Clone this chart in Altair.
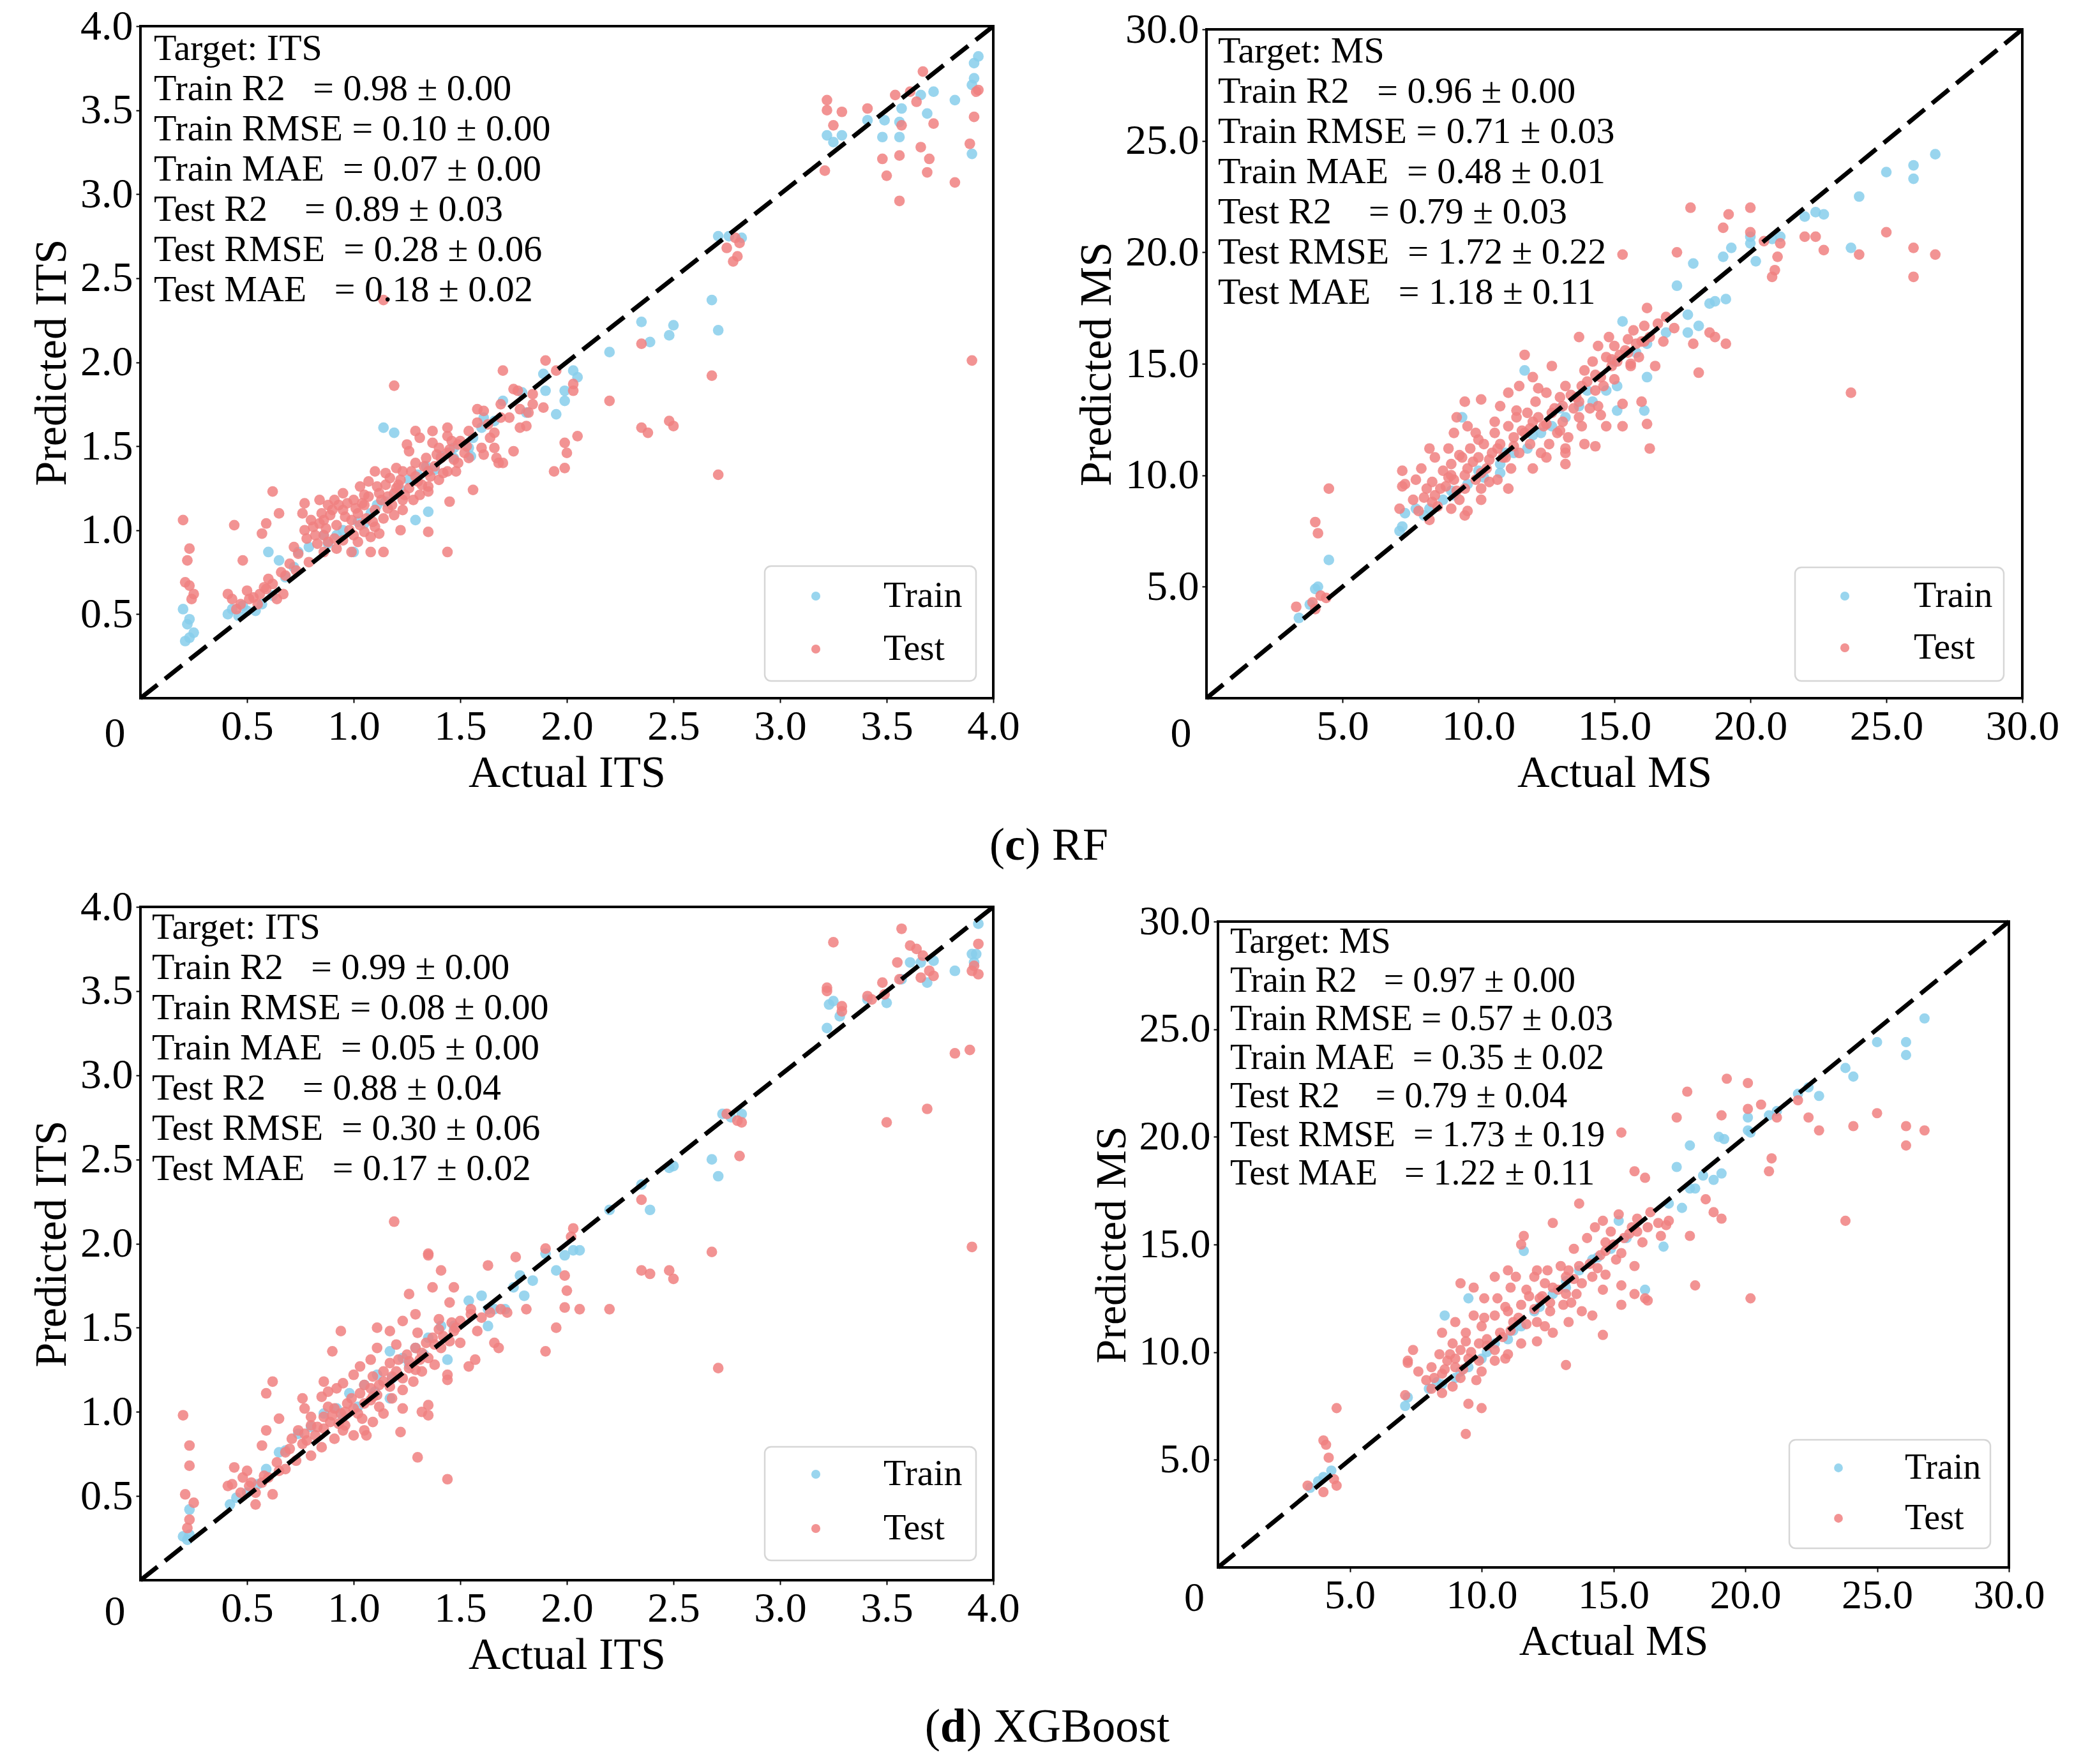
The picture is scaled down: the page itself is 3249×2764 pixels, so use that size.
import altair as alt
import pandas as pd

FONT = "Liberation Serif"
TRAIN_COLOR = "#87CEEB"
TEST_COLOR = "#F08080"
NBSP = "\u00a0"

# ---------------------------------------------------------------------------
# Observed vs. predicted values, (actual, predicted) pairs
# ---------------------------------------------------------------------------
RF_ITS_TRAIN = [
    (3.22, 3.35), (3.25, 3.31), (3.29, 3.35), (3.41, 3.44), (3.48, 3.34), (3.49, 3.44),
    (3.56, 3.34), (3.56, 3.43), (3.57, 3.51), (3.66, 3.59), (3.69, 3.48), (3.72, 3.61),
    (3.82, 3.56), (3.90, 3.65), (3.91, 3.78), (3.93, 3.82), (3.90, 3.24), (3.91, 3.69),
    (2.68, 2.37), (2.71, 2.19), (2.35, 2.24), (2.39, 2.12), (2.48, 2.16), (2.50, 2.22),
    (2.20, 2.06), (2.71, 2.75), (2.76, 2.75), (2.82, 2.74), (2.03, 1.95), (2.05, 1.91),
    (1.99, 1.77), (1.95, 1.69), (1.99, 1.83), (1.89, 1.93), (1.90, 1.83),
    (0.20, 0.53), (0.22, 0.44), (0.23, 0.36), (0.21, 0.34), (0.25, 0.39), (0.23, 0.47),
    (0.41, 0.50), (0.43, 0.53), (0.48, 0.55), (0.54, 0.52), (0.57, 0.56), (0.62, 0.61),
    (0.65, 0.82), (0.60, 0.87), (0.68, 0.72), (0.74, 0.87), (0.79, 0.90), (0.86, 0.97),
    (0.92, 0.97), (1.00, 0.87), (1.05, 1.04), (1.11, 1.15), (1.19, 1.21), (1.26, 1.30),
    (1.35, 1.11), (1.34, 1.38), (1.41, 1.44), (1.47, 1.49), (1.56, 1.55), (1.60, 1.61),
    (1.66, 1.65), (1.70, 1.77), (1.79, 1.82), (1.14, 1.61), (1.19, 1.58), (1.29, 1.06),
    (1.47, 1.43), (1.54, 1.49), (1.61, 1.67), (1.55, 1.44), (1.81, 1.70),
    (0.95, 1.00), (1.02, 1.05), (1.08, 1.10), (1.15, 1.17), (1.22, 1.24), (1.30, 1.33),
    (1.38, 1.36), (1.45, 1.46), (0.88, 0.92), (0.72, 0.78), (0.50, 0.52), (0.46, 0.49),
]
RF_ITS_TEST = [
    (3.22, 3.56), (3.22, 3.50), (3.25, 3.41), (3.29, 3.49), (3.21, 3.14), (3.41, 3.51),
    (3.48, 3.21), (3.50, 3.11), (3.54, 3.59), (3.56, 2.96), (3.57, 3.41), (3.56, 3.23),
    (3.66, 3.28), (3.67, 3.73), (3.70, 3.21), (3.69, 3.13), (3.72, 3.42), (3.82, 3.07),
    (3.89, 3.30), (3.91, 3.46), (3.92, 3.61), (3.93, 3.62), (3.90, 2.01), (3.64, 3.55),
    (3.61, 3.61),
    (2.68, 1.92), (2.71, 1.33), (2.35, 2.11), (2.35, 1.61), (2.38, 1.58), (2.48, 1.65),
    (2.50, 1.62), (2.20, 1.77), (2.75, 2.68), (2.80, 2.63), (2.81, 2.71), (2.79, 2.74),
    (2.78, 2.60), (1.94, 1.35), (1.99, 1.37), (1.99, 1.52), (2.00, 1.46), (2.05, 1.56),
    (2.03, 1.83), (2.03, 1.87), (1.95, 1.95), (1.90, 2.01),
    (1.14, 2.37), (1.19, 1.86), (1.44, 0.87), (1.70, 1.95),
    (0.20, 1.06), (0.23, 0.89), (0.22, 0.82), (0.21, 0.69), (0.23, 0.67), (0.25, 0.62),
    (0.24, 0.59), (0.44, 1.03), (0.48, 0.82), (0.57, 0.98), (0.59, 1.04), (0.62, 1.23),
    (0.65, 1.10), (0.76, 1.10), (0.77, 1.16), (0.84, 1.18), (1.05, 1.15), (1.10, 1.35),
    (1.22, 1.00), (1.35, 0.99), (1.56, 1.24), (1.45, 1.17), (1.46, 1.53), (1.44, 1.61),
    (1.61, 1.71), (1.69, 1.75), (1.78, 1.61), (1.67, 1.43), (1.68, 1.40), (1.75, 1.47),
    (1.82, 1.70), (1.89, 1.73), (1.84, 1.81), (1.26, 1.47), (1.29, 1.59), (1.37, 1.52),
    (1.40, 1.49), (1.48, 1.35), (1.54, 1.43), (1.60, 1.49), (1.64, 1.55), (1.35, 1.23),
    (1.16, 1.20), (1.14, 0.87), (1.08, 0.87), (0.99, 0.87), (0.92, 0.89), (0.86, 0.87),
    (0.83, 0.92), (0.79, 0.81), (0.73, 0.76), (0.68, 0.73), (0.62, 0.68), (0.56, 0.62),
    (0.51, 0.59), (0.47, 0.56), (0.43, 0.59), (0.41, 0.62), (0.50, 0.64), (0.59, 0.65),
    (0.64, 0.59), (0.67, 0.62), (0.55, 0.56), (0.45, 0.53),
    (0.86, 1.06), (0.89, 1.09), (0.92, 1.03), (0.95, 1.12), (0.99, 1.06), (1.02, 1.10),
    (1.03, 1.03), (1.06, 1.07), (1.10, 1.12), (1.13, 1.18), (1.16, 1.13), (1.19, 1.22),
    (1.21, 1.27), (1.23, 1.18), (1.26, 1.25), (1.29, 1.32), (1.32, 1.27), (1.35, 1.35),
    (1.38, 1.38), (1.41, 1.43), (1.34, 1.43), (1.23, 1.35), (1.17, 1.31), (1.11, 1.26),
    (1.05, 1.21), (1.00, 1.18), (0.95, 1.22), (0.91, 1.18), (0.88, 1.15), (0.85, 1.10),
    (0.80, 1.06), (0.77, 1.00), (0.82, 0.97), (0.86, 0.97), (0.91, 0.95), (0.95, 0.94),
    (1.00, 0.97), (1.05, 0.99), (1.10, 1.02), (1.14, 1.07), (1.19, 1.09), (1.23, 1.12),
    (1.28, 1.18), (1.31, 1.21), (1.35, 1.26), (1.40, 1.30), (1.44, 1.35), (1.49, 1.40),
    (1.52, 1.46), (1.49, 1.51), (1.44, 1.46), (1.29, 1.40), (1.20, 1.37), (1.15, 1.34),
    (1.07, 1.29), (1.03, 1.26), (1.25, 1.51), (1.31, 1.55), (1.37, 1.59), (1.44, 1.56),
    (1.54, 1.59), (1.58, 1.64), (1.63, 1.63), (1.66, 1.58), (1.69, 1.67), (1.73, 1.67),
    (1.78, 1.72), (1.84, 1.75), (1.75, 1.84), (1.77, 1.83), (1.58, 1.72), (1.66, 1.49),
    (1.61, 1.45), (1.70, 1.40), (1.81, 1.62),
    (0.78, 0.95), (0.81, 1.02), (0.84, 1.04), (0.87, 1.01), (0.90, 1.12), (0.93, 1.15),
    (0.96, 1.08), (0.98, 1.00), (1.01, 1.13), (1.04, 1.16), (1.07, 1.20), (1.09, 1.05),
    (1.12, 1.22), (1.15, 1.27), (1.18, 1.15), (1.20, 1.25), (1.22, 1.30), (1.24, 1.21),
    (1.27, 1.35), (1.30, 1.29), (1.33, 1.38), (1.36, 1.32), (1.39, 1.45), (1.42, 1.34),
    (1.45, 1.48), (1.47, 1.42), (1.50, 1.53), (1.53, 1.50), (0.97, 1.16), (1.02, 0.93),
    (1.08, 0.96), (1.12, 0.98), (0.88, 0.93), (0.74, 0.86), (0.70, 0.80), (0.66, 0.75),
    (0.58, 0.66), (0.53, 0.60), (0.60, 0.71), (0.72, 0.90),
]

RF_MS_TRAIN = [
    (26.8, 24.4), (26.0, 23.9), (26.0, 23.3), (25.0, 23.6), (24.0, 22.5), (23.7, 20.2),
    (22.7, 21.7), (22.4, 21.8), (22.0, 21.6), (21.1, 20.7), (20.8, 20.6), (20.2, 19.6),
    (20.0, 20.7), (20.0, 20.4), (19.3, 20.2), (19.0, 19.8), (19.1, 17.9), (18.7, 17.8),
    (18.5, 17.7), (17.9, 19.5), (17.3, 18.5), (17.7, 17.2), (18.1, 16.7), (17.7, 16.4),
    (16.9, 16.4), (16.2, 15.9), (16.2, 14.4), (16.1, 12.9), (15.3, 16.9), (15.1, 14.0),
    (15.1, 12.9), (11.7, 14.7), (14.7, 13.8), (14.2, 13.3), (13.7, 13.1), (13.2, 12.6),
    (12.7, 12.2), (12.3, 11.9), (11.8, 11.2), (11.3, 11.0), (10.8, 10.5), (10.2, 9.9),
    (9.6, 9.6), (9.1, 9.1), (8.7, 8.9), (8.2, 8.5), (7.7, 8.5), (7.3, 8.3), (7.2, 7.7),
    (7.1, 7.5), (4.5, 6.2), (4.1, 5.0), (4.0, 4.9), (3.4, 3.6), (3.8, 4.2), (9.4, 12.6),
    (10.8, 10.1), (8.0, 8.2), (9.0, 9.3), (10.0, 10.2), (11.0, 11.0), (12.0, 11.8),
    (13.0, 13.0), (14.0, 13.8), (15.0, 15.1), (15.8, 15.5),
]
RF_MS_TEST = [
    (26.0, 20.2), (26.0, 18.9), (26.8, 19.9), (25.0, 20.9), (24.0, 19.9), (23.7, 13.7),
    (22.7, 20.1), (22.4, 20.7), (22.0, 20.7), (21.1, 20.4), (21.0, 19.8), (20.9, 19.2),
    (20.8, 18.9), (20.5, 20.5), (20.0, 22.0), (20.0, 20.9), (19.2, 21.7), (19.0, 21.1),
    (17.8, 22.0), (17.3, 20.0), (15.3, 19.9), (19.1, 15.9), (18.7, 16.2), (18.5, 16.4),
    (18.1, 14.6), (17.9, 15.9), (16.2, 17.5), (16.3, 11.2), (16.2, 12.3), (16.0, 13.3),
    (15.3, 12.2), (15.3, 13.2), (14.5, 12.7), (14.3, 11.3), (13.7, 16.2), (13.2, 11.2),
    (13.2, 10.5), (11.7, 15.4), (9.5, 13.3), (10.1, 13.4), (10.8, 13.1), (9.2, 12.6),
    (7.2, 10.2), (7.2, 9.5), (7.1, 8.5), (7.3, 9.6), (9.5, 8.2), (9.6, 8.4), (4.5, 9.4),
    (4.0, 7.9), (4.1, 7.4), (4.2, 4.6), (3.9, 4.3), (3.3, 4.1), (4.0, 4.0), (4.4, 4.5),
    (7.7, 9.8), (7.9, 10.3), (8.1, 9.4), (8.3, 9.7), (8.4, 9.1), (8.7, 10.2), (8.8, 9.5),
    (9.0, 10.5), (9.1, 9.8), (9.3, 8.9), (9.4, 10.8), (9.5, 9.4), (9.6, 10.3), (9.7, 11.2),
    (9.9, 9.8), (10.0, 10.8), (10.1, 9.4), (10.2, 11.4), (10.3, 10.3), (10.5, 11.0),
    (10.6, 11.9), (10.7, 9.8), (10.8, 11.4), (10.9, 10.8), (11.1, 12.2), (11.2, 10.3),
    (11.3, 11.7), (11.4, 12.6), (11.5, 11.0), (11.7, 11.9), (11.8, 12.8), (11.9, 11.4),
    (12.0, 12.4), (12.1, 13.3), (12.3, 11.0), (12.4, 12.2), (12.5, 13.7), (12.6, 11.4),
    (12.7, 12.8), (12.9, 11.9), (13.0, 13.5), (13.1, 12.4), (13.2, 14.0), (13.3, 11.7),
    (13.5, 13.0), (13.6, 13.5), (13.7, 12.6), (13.8, 14.0), (13.9, 14.7), (14.1, 13.0),
    (14.2, 15.1), (14.3, 13.8), (14.4, 15.8), (14.5, 14.4), (14.7, 15.3), (14.8, 16.2),
    (14.9, 14.9), (15.0, 15.8), (15.1, 15.1), (15.4, 15.6), (15.5, 16.1), (15.6, 14.9),
    (15.7, 16.5), (15.9, 15.3), (16.0, 16.0), (16.1, 16.7), (16.3, 16.2), (16.5, 14.9),
    (16.6, 16.8), (16.8, 16.0), (16.9, 17.1), (17.2, 16.6), (8.4, 10.8), (8.2, 11.2),
    (8.9, 11.2), (9.1, 11.9), (9.6, 12.2), (9.9, 11.9), (11.1, 13.7), (11.5, 14.0),
    (12.0, 14.4), (12.7, 14.9), (7.6, 8.9), (7.8, 8.4), (8.2, 8.0), (8.5, 8.6), (9.0, 8.5),
    (10.1, 8.9), (11.1, 9.4), (12.0, 10.3), (12.5, 10.8), (13.2, 11.0), (13.9, 11.4),
    (14.7, 12.2),
    (8.0, 9.0), (8.3, 8.8), (8.6, 9.4), (8.9, 9.9), (9.2, 9.3), (9.5, 10.0), (9.8, 10.6),
    (10.1, 10.1), (10.4, 10.7), (10.7, 11.2), (11.0, 10.8), (11.3, 11.3), (11.6, 12.0),
    (11.9, 12.1), (12.2, 12.6), (12.5, 12.3), (12.8, 13.0), (13.1, 13.1), (13.4, 13.6),
    (13.7, 13.3), (14.0, 14.2), (14.3, 14.5), (14.6, 14.0), (14.9, 15.2), (15.2, 15.4),
    (15.5, 15.5), (15.8, 15.9), (16.1, 16.0), (9.0, 10.0), (9.3, 10.9), (10.0, 11.6),
    (10.6, 12.4), (11.4, 12.9), (12.2, 13.9), (13.0, 12.0), (13.8, 12.2), (14.4, 13.1),
    (15.0, 14.3), (15.6, 15.0), (10.4, 9.7),
]

XGB_ITS_TRAIN = [
    (3.22, 3.28), (3.23, 3.42), (3.25, 3.44), (3.28, 3.35), (3.41, 3.45), (3.50, 3.43),
    (3.57, 3.57), (3.61, 3.67), (3.66, 3.67), (3.69, 3.55), (3.72, 3.68), (3.82, 3.62),
    (3.90, 3.72), (3.92, 3.72), (3.93, 3.90), (3.91, 3.67),
    (2.68, 2.50), (2.71, 2.40), (2.35, 2.35), (2.39, 2.20), (2.48, 2.45), (2.50, 2.46),
    (2.20, 2.20), (2.73, 2.77), (2.77, 2.75), (2.82, 2.77), (2.03, 1.96), (2.06, 1.96),
    (1.99, 1.93), (1.90, 1.94), (1.95, 1.84), (1.84, 1.78), (1.78, 1.81), (1.80, 1.69),
    (1.75, 1.74), (1.71, 1.61), (1.63, 1.61), (1.63, 1.51),
    (0.20, 0.26), (0.23, 0.27), (0.22, 0.24), (0.23, 0.42), (0.42, 0.45), (0.45, 0.49),
    (0.59, 0.66), (0.65, 0.76), (0.68, 0.77), (0.74, 0.87), (0.80, 0.91), (0.86, 0.99),
    (0.92, 1.02), (0.98, 1.11), (1.05, 1.16), (1.11, 1.22), (1.17, 1.36), (1.23, 1.32),
    (1.29, 1.38), (1.35, 1.44), (1.41, 1.51), (1.47, 1.51), (1.54, 1.66), (1.60, 1.69),
    (1.66, 1.61), (1.17, 1.08), (1.44, 1.31),
    (0.95, 0.97), (1.02, 1.03), (1.10, 1.12), (1.18, 1.20), (1.26, 1.28), (1.33, 1.34),
    (0.55, 0.57), (0.50, 0.52),
]
XGB_ITS_TEST = [
    (3.25, 3.79), (3.57, 3.87), (3.22, 3.52), (3.22, 3.50), (3.29, 3.41), (3.29, 3.38),
    (3.41, 3.47), (3.43, 3.45), (3.49, 3.48), (3.48, 3.55), (3.55, 3.67), (3.56, 3.57),
    (3.61, 3.77), (3.64, 3.75), (3.66, 3.58), (3.70, 3.62), (3.72, 3.59), (3.67, 3.71),
    (3.82, 3.13), (3.89, 3.15), (3.69, 2.80), (3.50, 2.72), (3.90, 1.98), (3.91, 3.65),
    (3.93, 3.78), (3.93, 3.60), (3.90, 3.62),
    (2.68, 1.95), (2.71, 1.26), (2.35, 2.26), (2.35, 1.84), (2.39, 1.82), (2.48, 1.84),
    (2.50, 1.79), (2.20, 1.61), (2.75, 2.77), (2.80, 2.73), (2.82, 2.72), (2.81, 2.52),
    (2.03, 2.09), (2.02, 2.04), (1.99, 1.81), (2.00, 1.72), (1.99, 1.62), (2.06, 1.61),
    (1.95, 1.50), (1.90, 1.36), (1.90, 1.97), (1.76, 1.92), (1.81, 1.61), (1.72, 1.59),
    (1.63, 1.87), (1.45, 1.65), (1.41, 1.84), (1.35, 1.94), (1.35, 1.93), (1.19, 2.13),
    (0.94, 1.48), (1.26, 1.70), (1.37, 1.74), (1.47, 1.74), (1.55, 1.61), (1.68, 1.38),
    (1.66, 1.41), (1.57, 1.31), (1.44, 0.60), (1.30, 0.73), (1.22, 0.88), (1.35, 0.98),
    (1.35, 1.04), (1.44, 1.19), (1.44, 1.22), (1.54, 1.27),
    (0.20, 0.98), (0.23, 0.80), (0.23, 0.68), (0.21, 0.51), (0.25, 0.46), (0.23, 0.36),
    (0.22, 0.31), (0.44, 0.67), (0.57, 0.80), (0.59, 0.89), (0.62, 1.18), (0.59, 1.11),
    (0.65, 0.96), (0.76, 1.08), (0.77, 1.02), (0.90, 1.36), (0.86, 1.18), (0.85, 1.09),
    (0.41, 0.56), (0.43, 0.57), (0.48, 0.61), (0.51, 0.56), (0.54, 0.52), (0.54, 0.45),
    (0.57, 0.58), (0.60, 0.61), (0.62, 0.51), (0.65, 0.65), (0.68, 0.66), (0.50, 0.65),
    (0.71, 0.84), (0.74, 0.89), (0.77, 0.87), (0.80, 0.92), (0.83, 0.91), (0.86, 0.97),
    (0.89, 0.94), (0.91, 1.02), (0.94, 0.99), (0.97, 1.05), (1.00, 1.02), (1.03, 1.11),
    (1.05, 1.16), (1.08, 1.07), (1.09, 1.21), (1.12, 1.16), (1.14, 1.24), (1.17, 1.29),
    (1.18, 1.21), (1.21, 1.31), (1.25, 1.34), (1.26, 1.26), (1.29, 1.38), (1.31, 1.31),
    (1.34, 1.41), (1.37, 1.44), (1.40, 1.49), (1.41, 1.38), (1.46, 1.53), (1.47, 1.48),
    (1.50, 1.54), (1.55, 1.58), (1.60, 1.56), (1.64, 1.59), (1.69, 1.61), (1.03, 1.27),
    (1.00, 1.22), (0.95, 1.17), (0.92, 1.14), (0.88, 1.12), (1.00, 0.86), (1.05, 0.89),
    (1.09, 0.94), (1.14, 0.99), (1.18, 1.08), (1.23, 1.13), (1.28, 1.18), (1.32, 1.24),
    (1.38, 1.28), (1.17, 1.48), (1.11, 1.38), (1.08, 1.31), (1.23, 1.54), (1.29, 1.58),
    (1.11, 1.50), (1.06, 0.86), (0.95, 0.89), (0.91, 0.84), (0.85, 0.79), (0.80, 0.74),
    (0.76, 0.81), (0.73, 0.71), (0.68, 0.76), (1.32, 1.00), (1.23, 1.02), (1.09, 1.09),
    (1.50, 1.41), (1.58, 1.48),
    (0.78, 0.83), (0.82, 0.86), (0.86, 0.90), (0.90, 0.98), (0.93, 0.93), (0.96, 1.00),
    (0.99, 1.08), (1.02, 0.99), (1.05, 1.05), (1.08, 1.14), (1.11, 1.10), (1.14, 1.18),
    (1.17, 1.15), (1.20, 1.24), (1.23, 1.20), (1.26, 1.30), (1.29, 1.25), (1.32, 1.35),
    (1.35, 1.32), (1.38, 1.40), (1.42, 1.45), (1.45, 1.42), (1.48, 1.50), (0.96, 0.92),
    (1.04, 0.96), (1.12, 1.03), (0.88, 1.03), (0.80, 0.97), (0.70, 0.78), (0.64, 0.70),
    (0.58, 0.62), (0.52, 0.58), (0.47, 0.52), (1.20, 1.40), (1.30, 1.47), (1.40, 1.55),
]

XGB_MS_TRAIN = [
    (26.8, 25.5), (26.1, 24.4), (26.1, 23.8), (25.0, 24.4), (24.1, 22.8), (23.8, 23.2),
    (22.8, 21.9), (22.4, 22.3), (22.0, 22.0), (21.2, 21.2), (20.9, 21.0), (20.1, 20.9),
    (20.1, 20.3), (20.2, 20.2), (19.2, 19.9), (19.0, 20.0), (19.1, 18.3), (18.8, 18.0),
    (18.4, 18.2), (17.9, 19.6), (17.4, 18.6), (17.9, 17.6), (18.1, 17.6), (17.6, 16.7),
    (17.1, 16.9), (16.9, 14.9), (16.2, 12.9), (15.2, 16.1), (14.9, 14.8), (14.2, 14.3),
    (13.7, 13.8), (13.2, 13.3), (12.7, 12.7), (12.0, 11.9), (11.5, 11.2), (11.0, 10.6),
    (10.5, 10.4), (10.0, 9.7), (9.5, 9.3), (9.0, 8.8), (8.5, 8.5), (8.0, 8.3), (7.2, 7.9),
    (7.1, 7.5), (9.5, 12.5), (11.6, 14.7), (8.6, 11.7), (4.0, 4.2), (4.3, 4.5), (3.5, 3.7),
    (3.8, 4.0), (8.3, 8.6), (9.2, 9.1), (10.2, 10.0), (11.2, 11.0), (12.2, 12.1),
    (13.2, 13.0), (14.4, 14.4), (15.5, 15.3),
]
XGB_MS_TEST = [
    (26.8, 20.3), (26.1, 20.5), (26.1, 19.6), (25.0, 21.1), (24.1, 20.5), (23.8, 16.1),
    (22.8, 20.3), (22.4, 20.9), (22.0, 21.7), (21.2, 20.9), (21.0, 19.0), (20.9, 18.4),
    (20.6, 21.5), (20.1, 22.5), (20.1, 21.3), (20.2, 12.5), (19.3, 22.7), (19.1, 21.0),
    (17.8, 22.1), (17.4, 20.9), (15.3, 20.2), (15.8, 18.4), (16.2, 18.1), (19.1, 16.2),
    (18.8, 16.5), (18.5, 17.1), (18.1, 13.1), (17.9, 15.4), (17.0, 15.9), (16.8, 15.4),
    (16.3, 12.4), (16.2, 12.5), (15.8, 12.7), (15.3, 13.1), (15.3, 12.2), (14.6, 10.8),
    (14.7, 13.6), (13.2, 9.4), (12.7, 16.0), (13.7, 16.9), (11.6, 15.4), (11.5, 15.0),
    (9.2, 13.2), (9.4, 6.2), (10.0, 7.4), (9.5, 7.6), (7.2, 9.5), (7.2, 9.6), (7.1, 8.0),
    (7.4, 10.1), (4.5, 7.4), (4.0, 5.9), (4.1, 5.7), (4.2, 5.1), (3.4, 3.8), (4.0, 3.5),
    (4.5, 3.8), (4.4, 4.1),
    (7.6, 9.1), (7.9, 8.7), (8.1, 9.3), (8.4, 9.9), (8.5, 9.0), (8.7, 9.6), (8.9, 10.4),
    (9.0, 9.3), (9.2, 10.1), (9.4, 10.9), (9.5, 9.7), (9.7, 11.7), (9.9, 10.4), (10.0, 11.2),
    (10.1, 12.5), (10.2, 10.6), (10.5, 11.7), (10.6, 12.5), (10.7, 10.9), (11.0, 11.9),
    (11.1, 13.0), (11.2, 11.4), (11.3, 13.5), (11.5, 12.2), (11.7, 12.9), (12.0, 13.5),
    (12.1, 11.4), (12.2, 12.5), (12.5, 13.8), (12.6, 11.9), (12.7, 13.0), (13.0, 14.0),
    (13.1, 12.2), (13.2, 13.5), (13.5, 14.8), (13.6, 12.7), (13.7, 14.0), (13.8, 11.9),
    (14.0, 15.3), (14.2, 13.5), (14.3, 15.8), (14.5, 14.5), (14.6, 16.1), (14.7, 15.1),
    (14.9, 15.6), (15.1, 14.3), (15.2, 16.4), (15.4, 15.3), (15.7, 15.8), (15.8, 14.0),
    (15.9, 16.2), (16.1, 15.1), (16.3, 15.8), (16.4, 16.5), (16.7, 16.0), (17.1, 16.1),
    (8.1, 8.3), (8.5, 8.1), (8.9, 8.4), (9.2, 8.8), (10.0, 9.1), (10.5, 9.6), (11.0, 9.9),
    (11.5, 10.4), (12.1, 10.5), (12.7, 10.9), (13.3, 11.4), (14.2, 11.7), (8.5, 10.9),
    (9.0, 11.4), (9.7, 13.0), (10.5, 13.5), (11.0, 13.8), (12.1, 13.8),
    (8.2, 8.8), (8.6, 9.2), (9.0, 9.7), (9.3, 9.2), (9.6, 10.0), (9.9, 9.6), (10.2, 10.3),
    (10.5, 10.1), (10.8, 10.7), (11.1, 11.0), (11.4, 11.6), (11.7, 11.3), (12.0, 12.0),
    (12.3, 12.6), (12.6, 12.3), (12.9, 12.9), (13.2, 12.7), (13.5, 13.4), (13.8, 13.2),
    (14.1, 14.1), (14.4, 13.9), (14.7, 14.7), (15.0, 15.0), (15.3, 14.6), (15.6, 15.5),
    (15.9, 15.6), (8.8, 9.9), (9.4, 10.5), (10.1, 11.6), (10.9, 12.1), (11.8, 12.6),
    (12.4, 13.2), (13.3, 13.8), (9.8, 8.7), (10.9, 9.7), (12.4, 11.2), (13.4, 12.3),
    (14.6, 12.9),
]

# Cross-validated metrics: (name, mean, std)
RF_ITS_METRICS = [("Train R2", 0.98, 0.00), ("Train RMSE", 0.10, 0.00), ("Train MAE", 0.07, 0.00),
                  ("Test R2", 0.89, 0.03), ("Test RMSE", 0.28, 0.06), ("Test MAE", 0.18, 0.02)]
RF_MS_METRICS = [("Train R2", 0.96, 0.00), ("Train RMSE", 0.71, 0.03), ("Train MAE", 0.48, 0.01),
                 ("Test R2", 0.79, 0.03), ("Test RMSE", 1.72, 0.22), ("Test MAE", 1.18, 0.11)]
XGB_ITS_METRICS = [("Train R2", 0.99, 0.00), ("Train RMSE", 0.08, 0.00), ("Train MAE", 0.05, 0.00),
                   ("Test R2", 0.88, 0.04), ("Test RMSE", 0.30, 0.06), ("Test MAE", 0.17, 0.02)]
XGB_MS_METRICS = [("Train R2", 0.97, 0.00), ("Train RMSE", 0.57, 0.03), ("Train MAE", 0.35, 0.02),
                  ("Test R2", 0.79, 0.04), ("Test RMSE", 1.73, 0.19), ("Test MAE", 1.22, 0.11)]

ITS_TICKS = [0.5, 1.0, 1.5, 2.0, 2.5, 3.0, 3.5, 4.0]
MS_TICKS = [5.0, 10.0, 15.0, 20.0, 25.0, 30.0]
ITS_LIMIT = 4.0
MS_LIMIT = 30.0
SERIES = ["Train", "Test"]
COLORS = [TRAIN_COLOR, TEST_COLOR]


def metric_lines(target, metrics):
    lines = [f"Target: {target}"]
    for name, mean, std in metrics:
        lines.append(f"{name:<10} = {mean:.2f} ± {std:.2f}".replace(" ", NBSP))
    return "\n".join(lines)


def one_row(**kw):
    return pd.DataFrame({k: [v] for k, v in kw.items()})


def build_panel(p):
    lim = p["lim"]
    pw, ph = p["plot_w"], p["plot_h"]
    ox, oy = p["origin"]
    x_scale = alt.Scale(domain=[-ox * lim / pw, lim], nice=False, zero=False)
    y_scale = alt.Scale(domain=[0, lim + oy * lim / ph], nice=False, zero=False)

    axis_common = dict(
        values=p["ticks"], format=".1f", grid=False, domain=False,
        labelFont=FONT, labelFontSize=p["fs_label"], labelColor="black",
        labelFlush=False, labelOverlap=False, labelPadding=5,
        tickColor="black", tickSize=7, tickWidth=2,
        titleFont=FONT, titleFontSize=p["fs_title"], titleFontWeight="normal",
        titleColor="black",
    )
    x_axis = alt.Axis(title=f"Actual {p['target']}", titlePadding=6,
                      titleX=ox + pw / 2, **axis_common)
    y_axis = alt.Axis(title=f"Predicted {p['target']}", titlePadding=8,
                      titleY=oy + ph / 2, offset=-ox, **axis_common)

    def xy(xfield, yfield):
        return dict(x=alt.X(xfield, scale=x_scale, axis=x_axis),
                    y=alt.Y(yfield, scale=y_scale, axis=y_axis))

    rows = [{"actual": a, "predicted": b, "set": "Train"} for a, b in p["train"]]
    rows += [{"actual": a, "predicted": b, "set": "Test"} for a, b in p["test"]]
    points = alt.Chart(pd.DataFrame(rows)).mark_circle(size=p["pt"], opacity=0.85).encode(
        color=alt.Color("set:N", scale=alt.Scale(domain=SERIES, range=COLORS), legend=None),
        **xy("actual:Q", "predicted:Q"),
    )

    diag = alt.Chart(pd.DataFrame({"actual": [0.0, lim], "predicted": [0.0, lim]})).mark_line(
        color="black", strokeWidth=p["lw"], strokeDash=[34, 15]
    ).encode(**xy("actual:Q", "predicted:Q"))

    frame = alt.Chart(one_row(actual=0.0, actual_end=lim, predicted=0.0, predicted_end=lim)).mark_rect(
        fillOpacity=0, stroke="black", strokeWidth=4
    ).encode(x2="actual_end:Q", y2="predicted_end:Q", **xy("actual:Q", "predicted:Q"))

    bx, by = p["box_xy"]
    box = alt.Chart(one_row(t=metric_lines(p["target"], p["metrics"]))).mark_text(
        align="left", baseline="alphabetic", font=FONT, fontSize=p["fs_box"],
        lineHeight=p["lh"], lineBreak="\n", color="black"
    ).encode(text="t:N", x=alt.value(ox + bx), y=alt.value(oy + by))

    zx, zy = p["zero_xy"]
    zero = alt.Chart(one_row(t="0")).mark_text(
        align="center", baseline="middle", font=FONT, fontSize=p["fs_label"], color="black"
    ).encode(text="t:N", x=alt.value(ox + zx), y=alt.value(oy + ph + zy))

    lx0, ly0, lx1, ly1 = p["leg_box"]
    leg_frame = alt.Chart(one_row(k=0)).mark_rect(
        cornerRadius=10, fill="white", fillOpacity=0.8, stroke="#d6d6d6", strokeWidth=2.5
    ).encode(x=alt.value(ox + lx0), x2=alt.value(ox + lx1),
             y=alt.value(oy + ly0), y2=alt.value(oy + ly1))
    layers = [points, diag, frame, box, zero, leg_frame]
    for name, color, row_y in zip(SERIES, COLORS, p["leg_rows"]):
        layers.append(alt.Chart(one_row(k=0)).mark_circle(size=p["leg_pt"], opacity=0.85, color=color)
                      .encode(x=alt.value(ox + p["leg_marker_x"]), y=alt.value(oy + row_y)))
        layers.append(alt.Chart(one_row(t=name)).mark_text(
            align="left", baseline="middle", font=FONT, fontSize=p["fs_box"], color="black")
            .encode(text="t:N", x=alt.value(ox + p["leg_label_x"]), y=alt.value(oy + row_y)))
    layers += p.get("extra", [])
    return alt.layer(*layers).properties(width=ox + pw, height=oy + ph)


def caption(letter, rest, x, y, size, bold_w):
    """Figure caption with a bold panel letter, e.g. (c) RF."""
    style = dict(font=FONT, fontSize=size, color="black", baseline="alphabetic")
    return [
        alt.Chart(one_row(t="(")).mark_text(align="right", **style)
        .encode(text="t:N", x=alt.value(x), y=alt.value(y)),
        alt.Chart(one_row(t=letter)).mark_text(align="left", fontWeight="bold", **style)
        .encode(text="t:N", x=alt.value(x), y=alt.value(y)),
        alt.Chart(one_row(t=")" + NBSP + rest)).mark_text(align="left", **style)
        .encode(text="t:N", x=alt.value(x + bold_w), y=alt.value(y)),
    ]


# Anchor so the figure's top-left corner sits at a fixed offset from the first panel
anchor = alt.Chart(one_row(k=0)).mark_square(size=1, color="white", opacity=1).encode(
    x=alt.value(-219.5), y=alt.value(-40.5))

common = dict(fs_label=66, fs_title=70, fs_box=58, lh=63, pt=280, leg_pt=200, lw=7)

tl = build_panel(dict(
    common, target="ITS", lim=ITS_LIMIT, ticks=ITS_TICKS, train=RF_ITS_TRAIN, test=RF_ITS_TEST,
    metrics=RF_ITS_METRICS, plot_w=1336, plot_h=1053, origin=(0, 0),
    box_xy=(21, 53), zero_xy=(-40, 56), leg_box=(978, 846, 1309, 1026),
    leg_marker_x=1058, leg_label_x=1164, leg_rows=(893, 976),
    extra=[anchor] + caption("c", "RF", 1354, 1306, 72, 32),
))
tr = build_panel(dict(
    common, target="MS", lim=MS_LIMIT, ticks=MS_TICKS, train=RF_MS_TRAIN, test=RF_MS_TEST,
    metrics=RF_MS_METRICS, plot_w=1278, plot_h=1048, origin=(0, 5),
    box_xy=(18, 52), zero_xy=(-40, 56), leg_box=(922, 843, 1249, 1021),
    leg_marker_x=1000, leg_label_x=1108, leg_rows=(888, 969),
))
bl = build_panel(dict(
    common, target="ITS", lim=ITS_LIMIT, ticks=ITS_TICKS, train=XGB_ITS_TRAIN, test=XGB_ITS_TEST,
    metrics=XGB_ITS_METRICS, plot_w=1336, plot_h=1055, origin=(0, 0),
    box_xy=(18, 50), zero_xy=(-40, 50), leg_box=(978, 846, 1309, 1024),
    leg_marker_x=1058, leg_label_x=1164, leg_rows=(889, 974),
    extra=caption("d", "XGBoost", 1253, 1308, 73, 41),
))
br = build_panel(dict(
    common, fs_label=64, fs_title=68, fs_box=56, lh=60.5, pt=260, leg_pt=190, lw=6.8,
    target="MS", lim=MS_LIMIT, ticks=MS_TICKS, train=XGB_MS_TRAIN, test=XGB_MS_TEST,
    metrics=XGB_MS_METRICS, plot_w=1239, plot_h=1012, origin=(18, 23),
    box_xy=(19, 49), zero_xy=(-37, 49), leg_box=(895, 812, 1210, 982),
    leg_marker_x=972, leg_label_x=1076, leg_rows=(856, 935),
))

chart = alt.concat(
    tl, tr, bl, br, columns=2,
    spacing={"row": 327, "column": 334}, bounds="flush", align="each",
).properties(padding=0).configure_view(strokeWidth=0)

chart.save("out.html", embed_options={"renderer": "svg", "actions": False})
